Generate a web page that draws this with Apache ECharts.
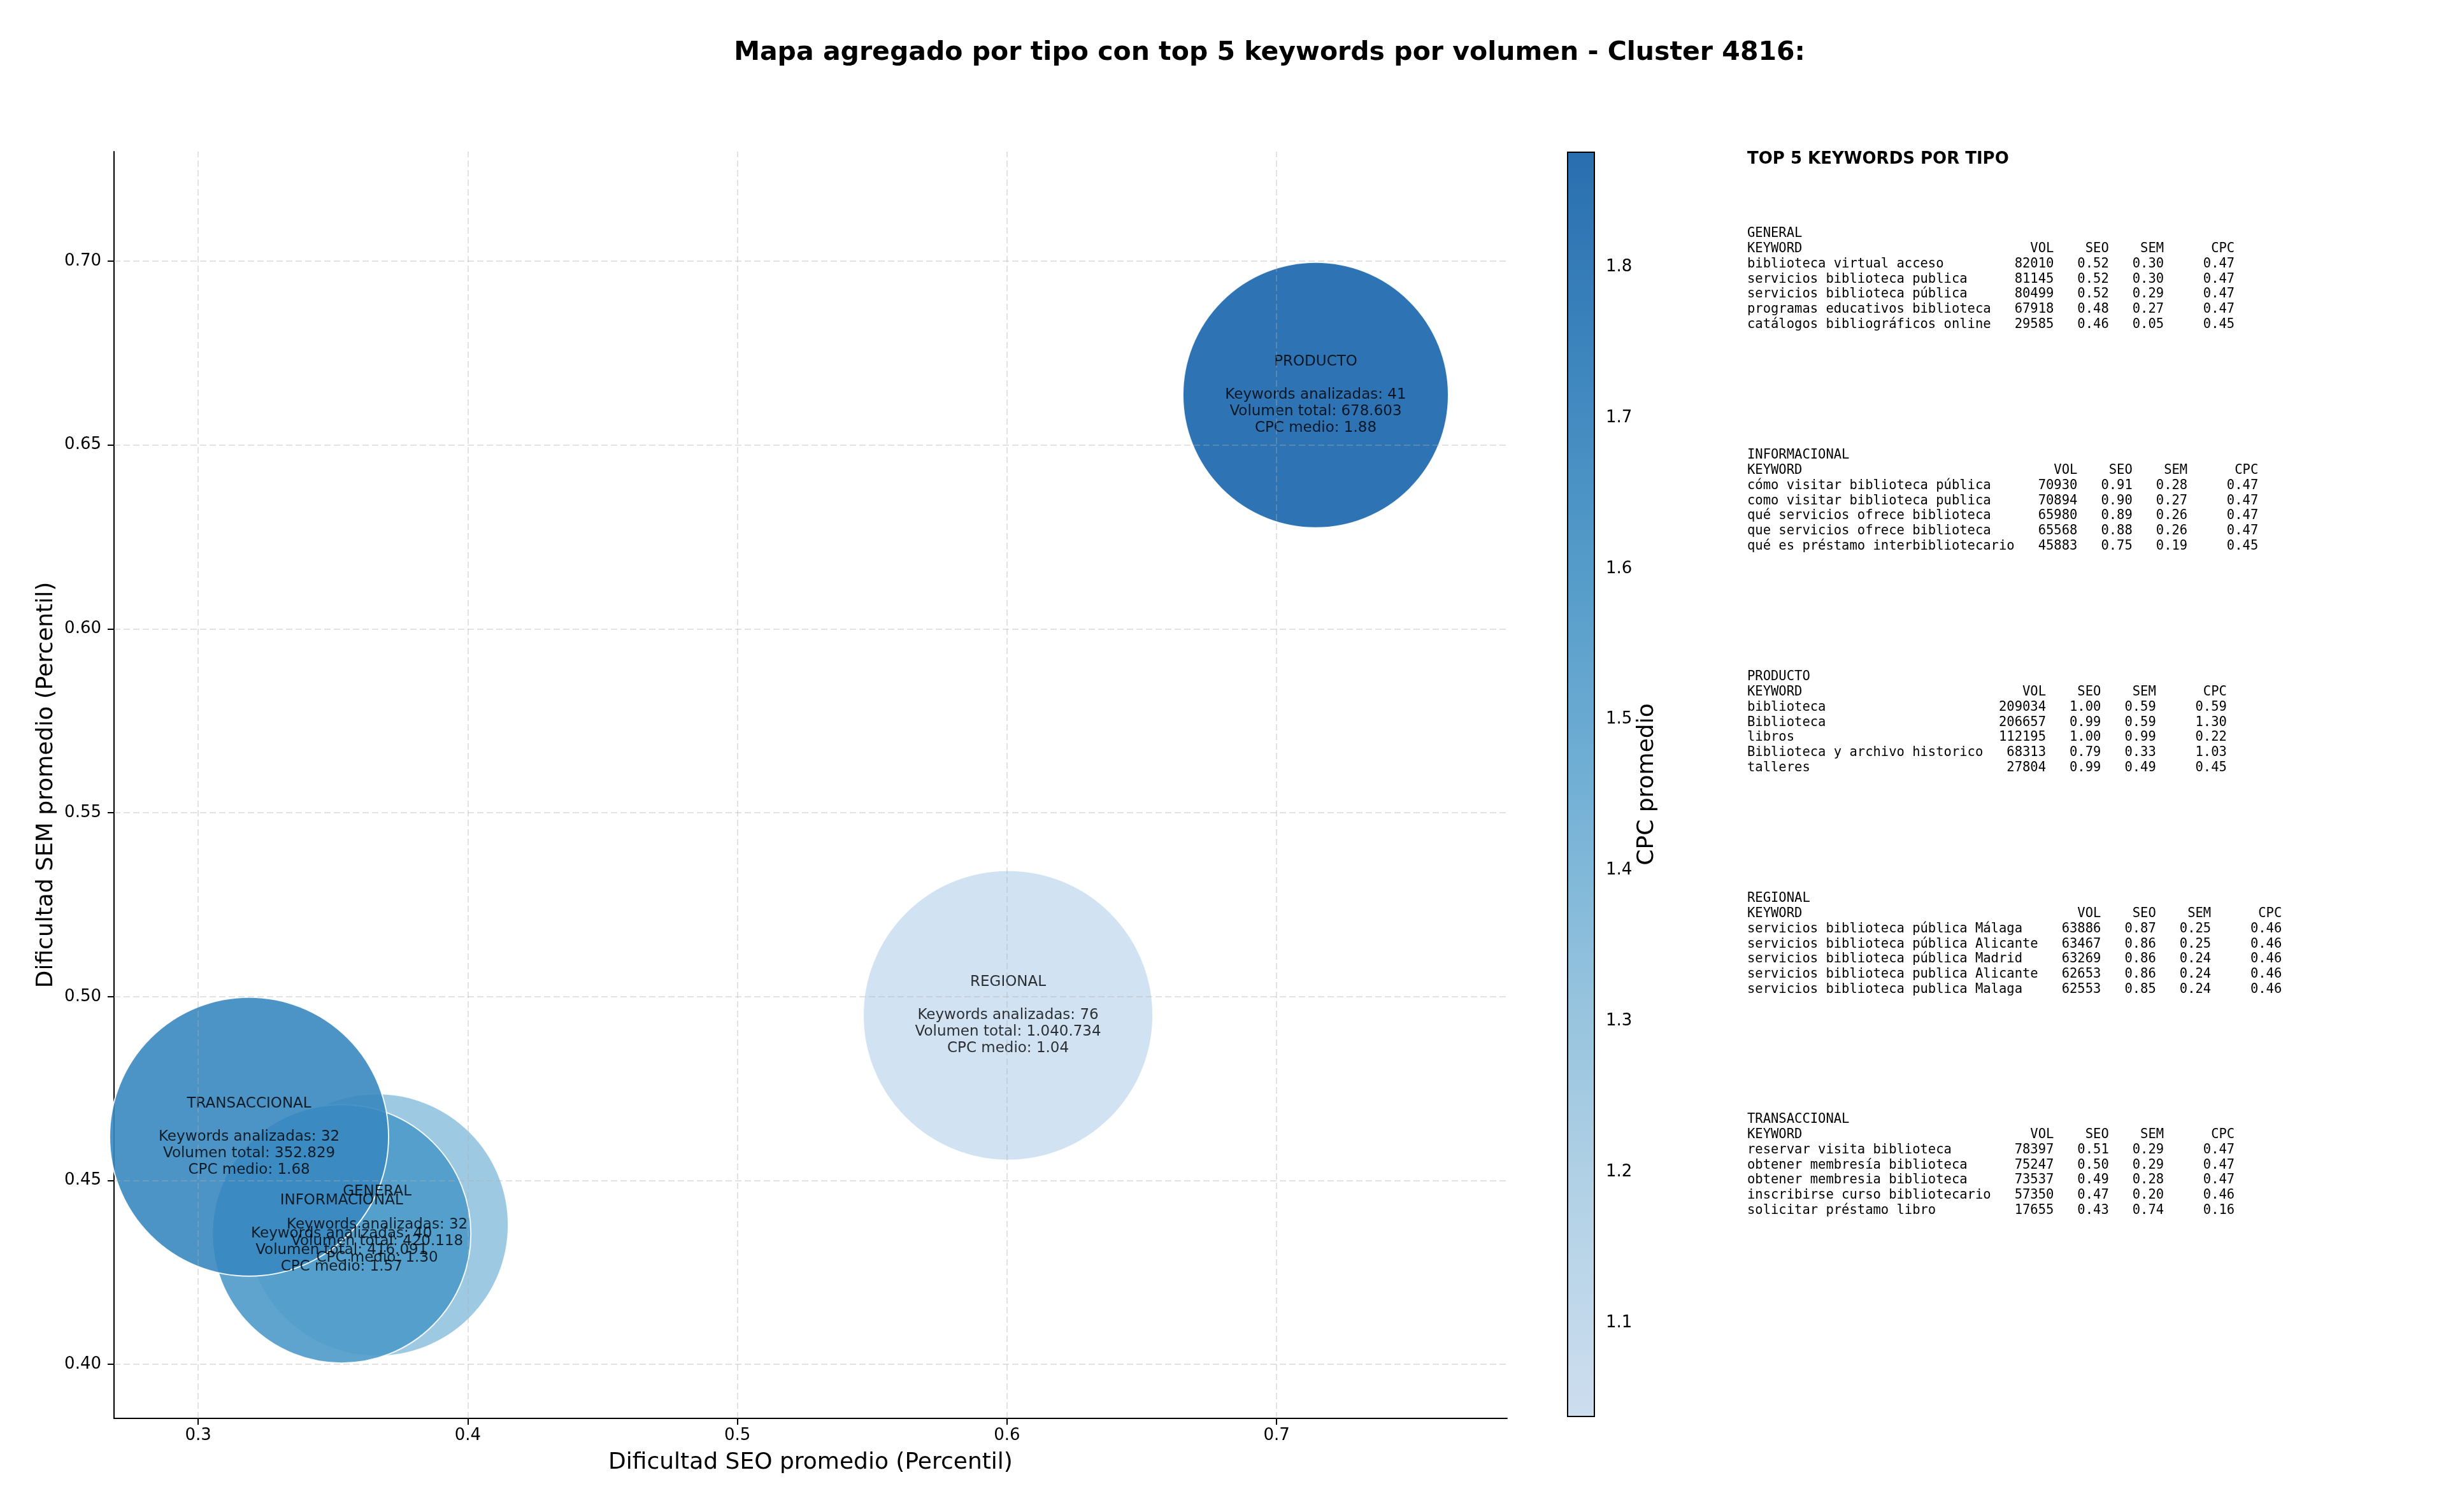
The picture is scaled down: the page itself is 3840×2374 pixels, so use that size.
<!DOCTYPE html>
<html><head><meta charset="utf-8">
<script src="https://cdn.jsdelivr.net/npm/echarts@6/dist/echarts.min.js"></script>
<style>html,body{margin:0;padding:0;background:#fff}#c{width:3840px;height:2374px}</style>
</head><body><div id="c"></div>
<script>
// ---- aggregated data per type ----
const types = ['GENERAL', 'INFORMACIONAL', 'PRODUCTO', 'REGIONAL', 'TRANSACCIONAL'];
const seoAvg = [0.3664, 0.3532, 0.7145, 0.6004, 0.3189];
const semAvg = [0.4379, 0.4355, 0.6636, 0.4949, 0.4619];
const cpcAvg = [1.30, 1.57, 1.876, 1.038, 1.68];
const keywordCount = [32, 40, 41, 76, 32];
const volumeTotal = [420118, 416091, 678603, 1040734, 352829];
const bubbleDiameter = [412, 406, 417, 455, 438];

// ---- axis ticks ----
const xTicks = [0.3, 0.4, 0.5, 0.6, 0.7];
const yTicks = [0.40, 0.45, 0.50, 0.55, 0.60, 0.65, 0.70];
const cbTicks = [1.1, 1.2, 1.3, 1.4, 1.5, 1.6, 1.7, 1.8];

// ---- top 5 keywords per type ----
const generalKw = ['biblioteca virtual acceso', 'servicios biblioteca publica', 'servicios biblioteca pública', 'programas educativos biblioteca', 'catálogos bibliográficos online'];
const generalVol = [82010, 81145, 80499, 67918, 29585];
const generalSeo = [0.52, 0.52, 0.52, 0.48, 0.46];
const generalSem = [0.30, 0.30, 0.29, 0.27, 0.05];
const generalCpc = [0.47, 0.47, 0.47, 0.47, 0.45];

const informacionalKw = ['cómo visitar biblioteca pública', 'como visitar biblioteca publica', 'qué servicios ofrece biblioteca', 'que servicios ofrece biblioteca', 'qué es préstamo interbibliotecario'];
const informacionalVol = [70930, 70894, 65980, 65568, 45883];
const informacionalSeo = [0.91, 0.90, 0.89, 0.88, 0.75];
const informacionalSem = [0.28, 0.27, 0.26, 0.26, 0.19];
const informacionalCpc = [0.47, 0.47, 0.47, 0.47, 0.45];

const productoKw = ['biblioteca', 'Biblioteca', 'libros', 'Biblioteca y archivo historico', 'talleres'];
const productoVol = [209034, 206657, 112195, 68313, 27804];
const productoSeo = [1.00, 0.99, 1.00, 0.79, 0.99];
const productoSem = [0.59, 0.59, 0.99, 0.33, 0.49];
const productoCpc = [0.59, 1.30, 0.22, 1.03, 0.45];

const regionalKw = ['servicios biblioteca pública Málaga', 'servicios biblioteca pública Alicante', 'servicios biblioteca pública Madrid', 'servicios biblioteca publica Alicante', 'servicios biblioteca publica Malaga'];
const regionalVol = [63886, 63467, 63269, 62653, 62553];
const regionalSeo = [0.87, 0.86, 0.86, 0.86, 0.85];
const regionalSem = [0.25, 0.25, 0.24, 0.24, 0.24];
const regionalCpc = [0.46, 0.46, 0.46, 0.46, 0.46];

const transaccionalKw = ['reservar visita biblioteca', 'obtener membresía biblioteca', 'obtener membresia biblioteca', 'inscribirse curso bibliotecario', 'solicitar préstamo libro'];
const transaccionalVol = [78397, 75247, 73537, 57350, 17655];
const transaccionalSeo = [0.51, 0.50, 0.49, 0.47, 0.43];
const transaccionalSem = [0.29, 0.29, 0.28, 0.20, 0.74];
const transaccionalCpc = [0.47, 0.47, 0.47, 0.46, 0.16];

// ---------------------------------------------------------------
const FONT = 'DejaVu Sans';
const MONO = 'DejaVu Sans Mono';
const fmtThousands = v => String(v).replace(/\B(?=(\d{3})+(?!\d))/g, '.');

function block(name, kw, vol, seo, sem, cpc) {
  const w = Math.max(...kw.map(k => k.length));
  const lines = [name,
    'KEYWORD'.padEnd(w) + ' ' + 'VOL'.padStart(7) + ' ' + 'SEO'.padStart(6) + ' ' + 'SEM'.padStart(6) + ' ' + 'CPC'.padStart(8)];
  kw.forEach((k, i) => {
    lines.push(k.padEnd(w) + ' ' + String(vol[i]).padStart(7) + ' ' + seo[i].toFixed(2).padStart(6) + ' ' +
      sem[i].toFixed(2).padStart(6) + ' ' + cpc[i].toFixed(2).padStart(8));
  });
  return lines.join('\n');
}
const blocks = [
  block('GENERAL', generalKw, generalVol, generalSeo, generalSem, generalCpc),
  block('INFORMACIONAL', informacionalKw, informacionalVol, informacionalSeo, informacionalSem, informacionalCpc),
  block('PRODUCTO', productoKw, productoVol, productoSeo, productoSem, productoCpc),
  block('REGIONAL', regionalKw, regionalVol, regionalSeo, regionalSem, regionalCpc),
  block('TRANSACCIONAL', transaccionalKw, transaccionalVol, transaccionalSeo, transaccionalSem, transaccionalCpc)
];

const points = types.map((t, i) => [seoAvg[i], semAvg[i], cpcAvg[i], bubbleDiameter[i]]);
const cpcMin = Math.min(...cpcAvg), cpcMax = Math.max(...cpcAvg);

const graphics = [
  { type: 'text', x: 1993, y: 83, style: { text: 'Mapa agregado por tipo con top 5 keywords por volumen - Cluster 4816:', fontFamily: FONT, fontWeight: 'bold', fontSize: 41, fill: '#000', align: 'center', verticalAlign: 'middle' } },
  { type: 'text', x: 2743, y: 250, style: { text: 'TOP 5 KEYWORDS POR TIPO', fontFamily: FONT, fontWeight: 'bold', fontSize: 26, fill: '#000', align: 'left', verticalAlign: 'middle' } }
];
const blockTops = [355, 703, 1051, 1399, 1746];
blocks.forEach((b, i) => {
  graphics.push({ type: 'text', x: 2743, y: blockTops[i], style: { text: b, fontFamily: MONO, fontSize: 20.5, lineHeight: 23.8, fill: '#000', align: 'left', verticalAlign: 'top' } });
});

const chart = echarts.init(document.getElementById('c'));
chart.setOption({
  animation: false,
  backgroundColor: '#fff',
  graphic: graphics,
  grid: [
    { left: 179, top: 238, width: 2187, height: 1989, show: false },
    { left: 2461, top: 239, width: 42, height: 1985, show: true, borderColor: '#000', borderWidth: 2, backgroundColor: 'transparent', z: 10 }
  ],
  xAxis: [
    { type: 'value', gridIndex: 0, min: 0.2688, max: 0.7855,
      name: 'Dificultad SEO promedio (Percentil)', nameLocation: 'middle', nameGap: 52,
      nameTextStyle: { fontFamily: FONT, fontSize: 36, color: '#000' },
      axisLine: { show: true, onZero: false, lineStyle: { color: '#000', width: 2 } },
      axisTick: { show: true, customValues: xTicks, length: 10, lineStyle: { color: '#000', width: 2 } },
      axisLabel: { customValues: xTicks, formatter: v => v.toFixed(1), fontFamily: FONT, fontSize: 26, color: '#000', margin: 14 },
      splitLine: { show: false } },
    { type: 'value', gridIndex: 1, show: false, min: 0, max: 1 }
  ],
  yAxis: [
    { type: 'value', gridIndex: 0, min: 0.3853, max: 0.7298,
      name: 'Dificultad SEM promedio (Percentil)', nameLocation: 'middle', nameGap: 88, nameRotate: 90,
      nameTextStyle: { fontFamily: FONT, fontSize: 36, color: '#000' },
      axisLine: { show: true, onZero: false, lineStyle: { color: '#000', width: 2 } },
      axisTick: { show: true, customValues: yTicks, length: 10, lineStyle: { color: '#000', width: 2 } },
      axisLabel: { customValues: yTicks, formatter: v => v.toFixed(2), fontFamily: FONT, fontSize: 26, color: '#000', margin: 20 },
      splitLine: { show: false } },
    { type: 'value', gridIndex: 1, position: 'right', min: cpcMin, max: cpcMax,
      name: 'CPC promedio', nameLocation: 'middle', nameGap: 65, nameRotate: 90,
      nameTextStyle: { fontFamily: FONT, fontSize: 36, color: '#000' },
      axisLine: { show: false },
      axisTick: { show: true, customValues: cbTicks, length: 10, lineStyle: { color: '#000', width: 2 } },
      axisLabel: { customValues: cbTicks, formatter: v => v.toFixed(1), fontFamily: FONT, fontSize: 26, color: '#000', margin: 18 },
      splitLine: { show: false } }
  ],
  visualMap: {
    type: 'continuous', seriesIndex: 0, dimension: 2, min: cpcMin, max: cpcMax,
    calculable: false, hoverLink: false, orient: 'vertical', left: 2461, top: 239,
    itemWidth: 42, itemHeight: 1985, padding: 0, text: null, showLabel: false,
    inRange: { color: ['rgba(204,223,241,0.9)', 'rgba(177,210,232,0.9)', 'rgba(142,193,222,0.9)', 'rgba(104,172,213,0.9)', 'rgba(72,150,200,0.9)', 'rgba(45,125,187,0.9)', 'rgba(23,100,171,0.9)'] }
  },
  series: [
    { type: 'scatter', xAxisIndex: 0, yAxisIndex: 0, z: 2, clip: true, data: points,
      symbolSize: v => v[3],
      itemStyle: { opacity: 1, borderColor: 'rgba(255,255,255,0.9)', borderWidth: 2 },
      emphasis: { disabled: true } },
    { type: 'scatter', xAxisIndex: 0, yAxisIndex: 0, z: 3, data: [], silent: true,
      markLine: { silent: true, symbol: ['none', 'none'], label: { show: false },
        lineStyle: { type: [10, 5], color: 'rgba(176,176,176,0.35)', width: 2 },
        data: xTicks.map(v => ({ xAxis: v })).concat(yTicks.map(v => ({ yAxis: v }))) } },
    { type: 'scatter', xAxisIndex: 0, yAxisIndex: 0, z: 4, data: points, silent: true,
      symbolSize: 1, itemStyle: { color: 'rgba(0,0,0,0)' },
      label: { show: true, position: 'inside', fontFamily: FONT, fontSize: 23, lineHeight: 26, color: '#000',
        formatter: p => types[p.dataIndex] + '\n\nKeywords analizadas: ' + keywordCount[p.dataIndex] +
          '\nVolumen total: ' + fmtThousands(volumeTotal[p.dataIndex]) + '\nCPC medio: ' + cpcAvg[p.dataIndex].toFixed(2) },
      labelLayout: { hideOverlap: false } }
  ]
});
</script></body></html>
